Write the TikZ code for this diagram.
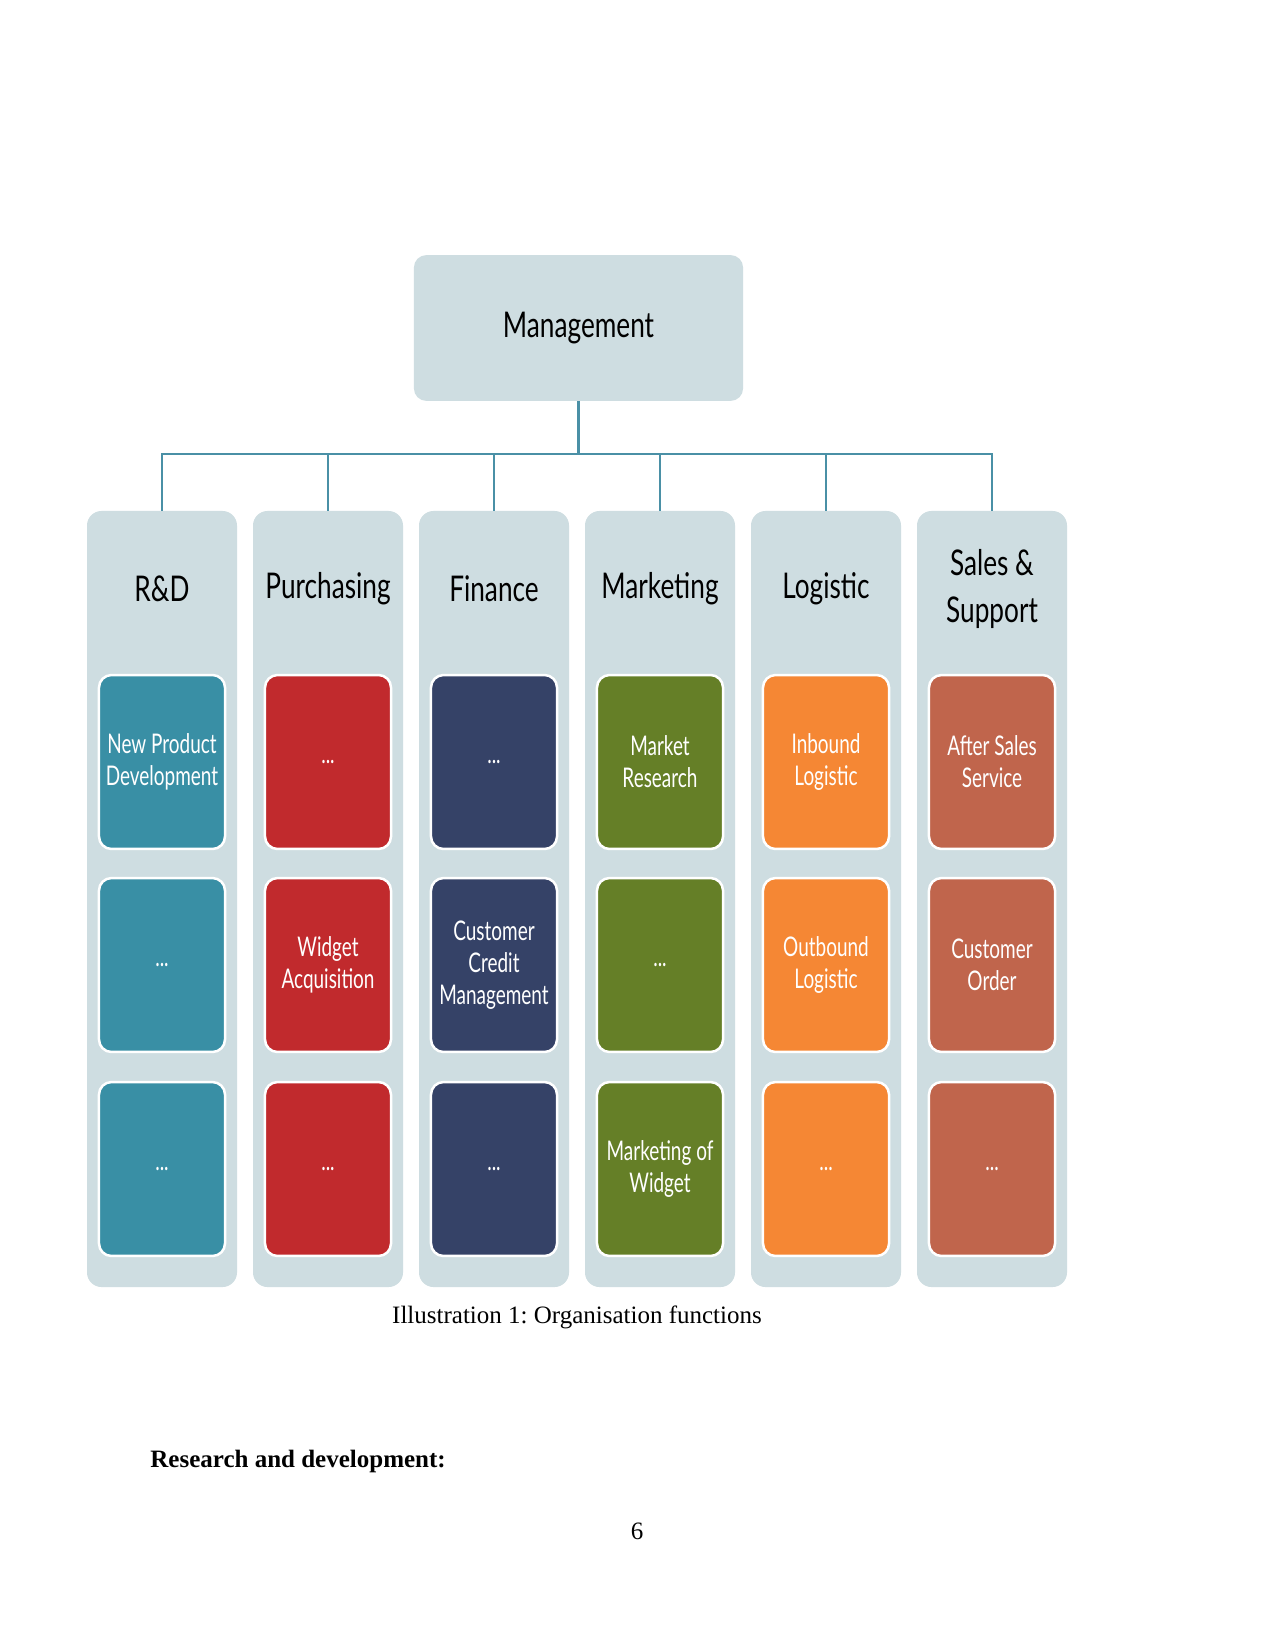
\documentclass[tikz,border=0pt]{standalone}
\usepackage{fontspec}
\setmainfont{Liberation Serif}
\newfontfamily\gill{Lato}[FakeStretch=0.74]
\newfontfamily\gillc{Lato}[FakeStretch=0.70]
\frenchspacing
\definecolor{colbg}{RGB}{206,221,225}
\definecolor{linkc}{RGB}{74,144,166}
\definecolor{cteal}{RGB}{57,143,165}
\definecolor{cred}{RGB}{193,42,45}
\definecolor{cnavy}{RGB}{53,66,103}
\definecolor{cgreen}{RGB}{101,127,39}
\definecolor{corange}{RGB}{245,135,52}
\definecolor{cbrick}{RGB}{192,101,76}
\begin{document}
\begin{tikzpicture}[x=0.48pt,y=-0.48pt,
  colbox/.style={fill=colbg, rounded corners=7pt, minimum width=72pt, minimum height=372.5pt, inner sep=0pt},
  hdr/.style={font=\gill\fontsize{17}{22.5}\selectfont, align=center, text=black, inner sep=0pt},
  cell/.style={draw=white, line width=1.2pt, rounded corners=6pt, minimum width=60.5pt, minimum height=83.5pt, inner sep=1pt, text=white, align=center, font=\gillc\fontsize{13}{15.4}\selectfont},
  link/.style={draw=linkc, line width=1pt}]
\path[use as bounding box, fill=white] (0,0) rectangle (1275,1650);

% management
\node[fill=colbg, rounded corners=6pt, minimum width=158pt, minimum height=70pt, font=\gill\fontsize{17}{22.5}\selectfont] (mgmt) at (578.5,328) {Management};

% columns
\node[colbox] (col1) at (162,899) {};
\node[colbox] (col2) at (328,899) {};
\node[colbox] (col3) at (494,899) {};
\node[colbox] (col4) at (660,899) {};
\node[colbox] (col5) at (826,899) {};
\node[colbox] (col6) at (992,899) {};

% connectors
\path (mgmt.south) ++(0,53) coordinate (bus);
\draw[link] (mgmt.south) -- (bus);
\foreach \i in {1,...,6} { \draw[link] (bus) -| (col\i.north); }

% headers
\node[hdr] (h1) at (162,589) {R\&D};
\node[hdr] (h2) at (328,589) {Purchasing};
\node[hdr] (h3) at (494,589) {Finance};
\node[hdr] (h4) at (660,589) {Marketing};
\node[hdr] (h5) at (826,589) {Logistic};
\node[hdr] (h6) at (992,589) {Sales \&\\Support};

% cells: R&D
\node[cell, fill=cteal] (a1) at (162,762) {New Product\\Development};
\node[cell, fill=cteal] (a2) at (162,965) {...};
\node[cell, fill=cteal] (a3) at (162,1169) {...};
% Purchasing
\node[cell, fill=cred] (b1) at (328,762) {...};
\node[cell, fill=cred] (b2) at (328,965) {Widget\\Acquisition};
\node[cell, fill=cred] (b3) at (328,1169) {...};
% Finance
\node[cell, fill=cnavy] (c1) at (494,762) {...};
\node[cell, fill=cnavy] (c2) at (494,965) {Customer\\Credit\\Management};
\node[cell, fill=cnavy] (c3) at (494,1169) {...};
% Marketing
\node[cell, fill=cgreen] (d1) at (660,762) {Market\\Research};
\node[cell, fill=cgreen] (d2) at (660,965) {...};
\node[cell, fill=cgreen] (d3) at (660,1169) {Marketing of\\Widget};
% Logistic
\node[cell, fill=corange] (e1) at (826,762) {Inbound\\Logistic};
\node[cell, fill=corange] (e2) at (826,965) {Outbound\\Logistic};
\node[cell, fill=corange] (e3) at (826,1169) {...};
% Sales & Support
\node[cell, fill=cbrick] (f1) at (992,762) {After Sales\\Service};
\node[cell, fill=cbrick] (f2) at (992,965) {Customer\\Order};
\node[cell, fill=cbrick] (f3) at (992,1169) {...};

% text below
\node[font=\fontsize{12}{14}\selectfont, inner sep=0pt] (cap) at (577,1317) {Illustration 1: Organisation functions};
\node[font=\fontsize{12}{14}\selectfont\bfseries, anchor=west, inner sep=0pt] (rd) at (150,1461) {Research and development:};
\node[font=\fontsize{12}{14}\selectfont, inner sep=0pt] (pg) at (637,1531) {6};
\end{tikzpicture}
\end{document}
